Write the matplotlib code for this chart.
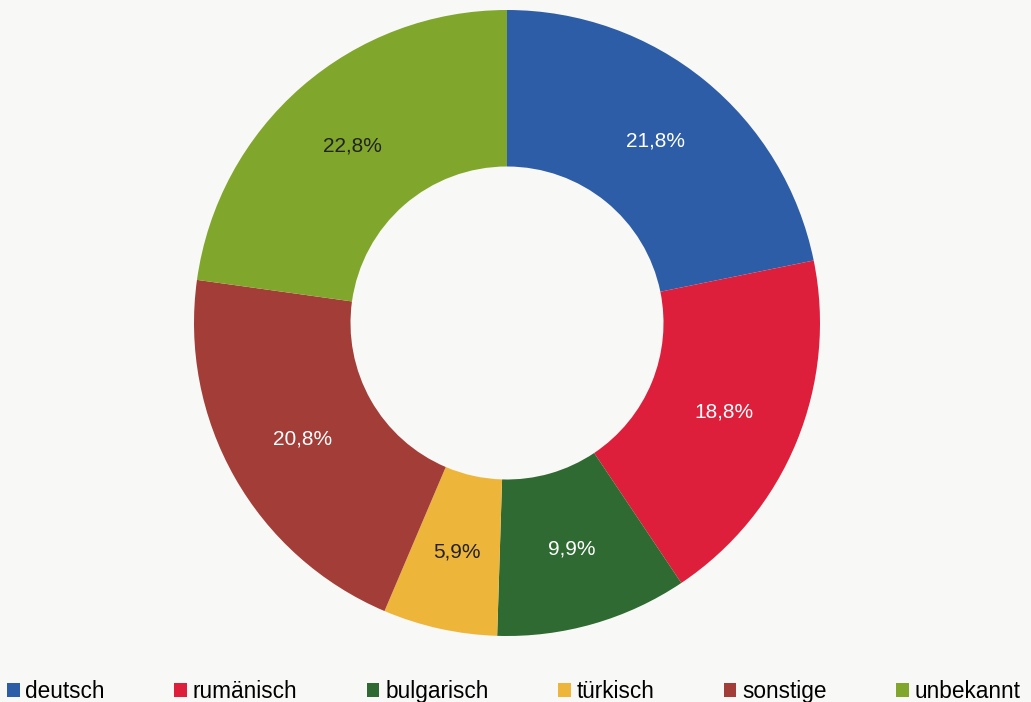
import matplotlib
matplotlib.use('Agg')
import matplotlib.pyplot as plt
from matplotlib.patches import Patch

# data
categories = ['deutsch', 'rumänisch', 'bulgarisch', 'türkisch', 'sonstige', 'unbekannt']
shares = [21.8, 18.8, 9.9, 5.9, 20.8, 22.8]
colors = ['#2d5da6', '#dd1f3b', '#2e6a31', '#eeb53b', '#a33d37', '#80a72b']
label_colors = ['white', 'white', 'white', '#222222', 'white', '#222222']

plt.rcParams['font.family'] = ['Liberation Sans', 'DejaVu Sans']

bg = '#f8f8f6'
fig = plt.figure(figsize=(10.31, 7.02), dpi=100, facecolor=bg)
ax = fig.add_axes([194/1031, 66/702, 626/1031, 626/702])
ax.set_facecolor(bg)

wedges, texts, autotexts = ax.pie(
    shares, colors=colors, startangle=90, counterclock=False,
    radius=1.0, pctdistance=0.75,
    autopct=lambda p: ('%.1f%%' % p).replace('.', ','),
    wedgeprops=dict(width=0.5, edgecolor='none'),
    textprops=dict(fontsize=15))
for t, c in zip(autotexts, label_colors):
    t.set_color(c)
ax.set_xlim(-1, 1)
ax.set_ylim(-1, 1)
ax.set_aspect('equal')
ax.axis('off')

handles = [Patch(facecolor=c, edgecolor='none') for c in colors]
fig.legend(handles, categories, loc='lower left', bbox_to_anchor=(0.0, -0.011),
           ncol=6, frameon=False, fontsize=16.3, handlelength=0.57, handleheight=0.57,
           handletextpad=0.25, columnspacing=3.06, borderpad=0.3, borderaxespad=0.0)

fig.savefig('out.png', dpi=100, facecolor=bg)
